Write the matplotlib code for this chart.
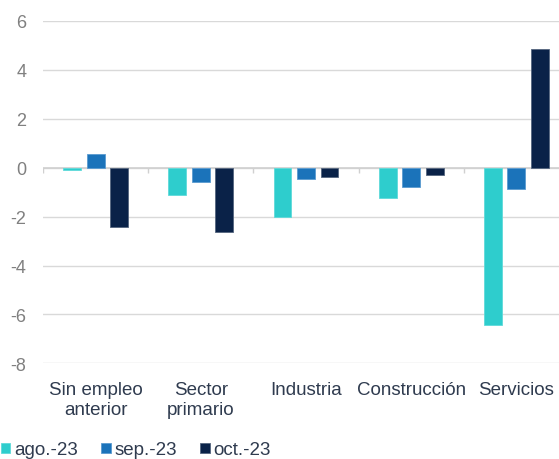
import numpy as np
import matplotlib.pyplot as plt

# categories and monthly values
categorias = ['Sin empleo\nanterior', 'Sector\nprimario', 'Industria', 'Construcción', 'Servicios']
series = ['ago.-23', 'sep.-23', 'oct.-23']
ago_23 = [-0.1, -1.1, -2.0, -1.25, -6.45]
sep_23 = [0.57, -0.6, -0.45, -0.78, -0.88]
oct_23 = [-2.42, -2.62, -0.4, -0.29, 4.84]
colores = ['#2ECDCD', '#1B73BA', '#0A2248']
bordes = ['#5FDADA', '#5A9BD0', '#55657E']

plt.rcParams['font.family'] = ['Liberation Sans', 'DejaVu Sans']
plt.rcParams['axes.unicode_minus'] = False

fig = plt.figure(figsize=(5.59, 4.60), dpi=100)
ax = fig.add_axes([43 / 559, 1 - 364.3 / 460, 526 / 559, (364.3 - 22) / 460])

x = np.arange(len(categorias))
ancho = 0.17
paso = 0.223
for i, (vals, nombre) in enumerate(zip([ago_23, sep_23, oct_23], series)):
    ax.bar(x + (i - 1) * paso, vals, ancho, color=colores[i], edgecolor=bordes[i],
           linewidth=0.6, label=nombre, zorder=3)

# axis line at zero with ticks between categories
ax.axhline(0, color='#d0d0d0', linewidth=1.2, zorder=2)
ax.vlines(np.arange(len(categorias) + 1) - 0.5, -0.2, 0, color='#d0d0d0', linewidth=1.0, zorder=2)

ax.set_xlim(-0.5, len(categorias) - 0.5)
ax.set_ylim(-8, 6)
ax.set_yticks(np.arange(-8, 7, 2))
ax.yaxis.grid(True, color='#d9d9d9', linewidth=1.0, zorder=0)
ax.set_axisbelow(True)
for s in ax.spines.values():
    s.set_visible(False)

ax.set_xticks(x)
ax.set_xticklabels(categorias, fontsize=13.5, color='#2F3B4F', linespacing=1.2)
ax.tick_params(axis='x', length=0, pad=13)
ax.tick_params(axis='y', length=0, pad=12, labelsize=13, labelcolor='#808080')

leg = fig.legend(loc='center left', bbox_to_anchor=(0.002, 1 - 451 / 460), ncol=3, frameon=False,
                 fontsize=13.5, handlelength=0.5, handleheight=0.5, handletextpad=0.2,
                 columnspacing=1.25, borderaxespad=0, borderpad=0)
for t in leg.get_texts():
    t.set_color('#2F3B4F')

fig.savefig('out.png', dpi=100)
